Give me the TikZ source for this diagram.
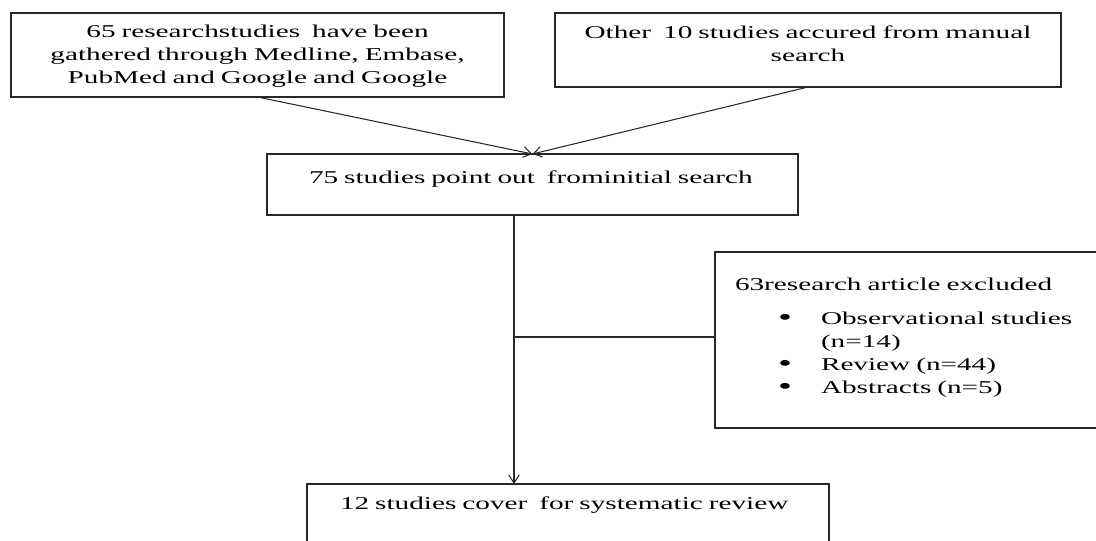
\documentclass[tikz,border=0pt]{standalone}
\usepackage{fontspec}
\setmainfont[FakeStretch=1.62]{Liberation Serif}
\usepackage{tikz}
\usetikzlibrary{arrows.meta, positioning, calc}
\definecolor{linegray}{RGB}{40,40,40}
\newlength\pxu
\setlength\pxu{0.03cm}
\newcommand{\itemdot}{\makebox[43\pxu][l]{\fontsize{21pt}{0pt}\selectfont\raisebox{-0.6pt}{•}}}
\tikzset{
  studybox/.style = {rectangle, draw=linegray, line width=0.9pt, anchor=north west,
                     inner ysep=0pt, outer sep=0pt,
                     font=\fontsize{15.4pt}{19.6pt}\selectfont},
  arrow/.style    = {-{Straight Barb[length=7pt,width=9pt]}, line width=0.9pt, color=linegray},
  line/.style     = {line width=0.9pt, color=linegray},
}

\begin{document}
\begin{tikzpicture}[x=0.03cm, y=-0.03cm]
  \useasboundingbox (0,0) rectangle (1096,541);

  \node[studybox, inner xsep=10\pxu, text width=473\pxu, align=center,
        text height=25\pxu, text depth=59\pxu] (database) at (11,13)
    {65 researchstudies\ \ have been\\gathered through Medline, Embase,\\PubMed and Google and Google};
  \node[studybox, inner xsep=10\pxu, text width=486\pxu, align=center,
        text height=26\pxu, text depth=48\pxu] (manual) at (555,13)
    {Other\ \ 10 studies accured from manual\\search};
  \node[studybox, inner xsep=42\pxu, text width=447\pxu, align=left,
        text height=30\pxu, text depth=31\pxu] (initial) at (267,154)
    {\mbox{75 studies point out\ \ frominitial search}};
  \node[studybox, inner xsep=20\pxu, text width=360\pxu, align=left,
        text height=38\pxu, text depth=138\pxu] (excluded) at (715,252)
    {63research article excluded\\[12\pxu]
     \hspace*{43\pxu}\itemdot Observational studies\\
     \hspace*{86\pxu}(n=14)\\
     \hspace*{43\pxu}\itemdot Review (n=44)\\
     \hspace*{43\pxu}\itemdot Abstracts (n=5)};
  \node[studybox, inner xsep=33\pxu, text width=456\pxu, align=left,
        text height=25\pxu, text depth=51\pxu] (included) at (307,484)
    {\mbox{12 studies cover\ \ for systematic review}};

  \coordinate (split) at (514,337);

  \draw[arrow] (database.south) -- (initial.north);
  \draw[arrow] (manual.south) -- (initial.north);
  \draw[line] (initial.south -| split) -- (split) -- (split -| excluded.west);
  \draw[arrow] (split) -- (included.north -| split);
\end{tikzpicture}
\end{document}
